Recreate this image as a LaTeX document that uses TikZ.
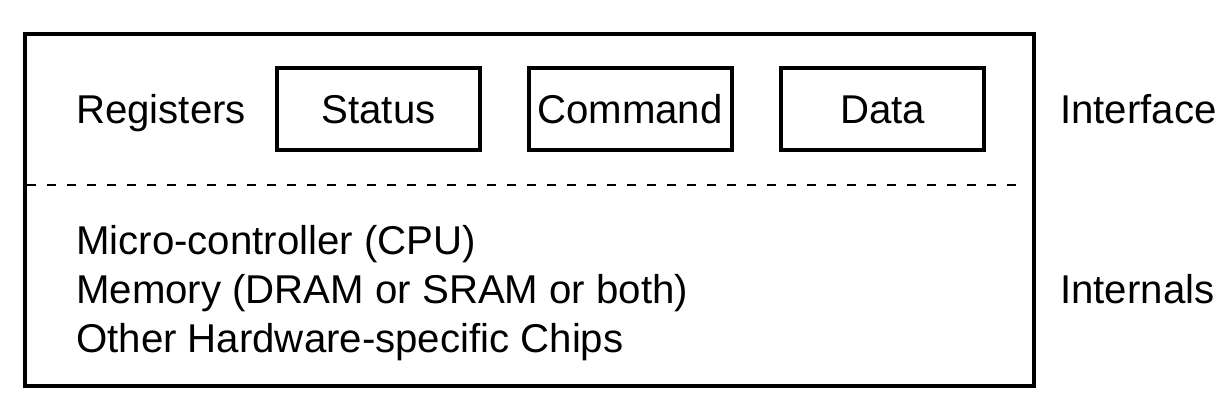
\documentclass[tikz,border=0pt]{standalone}
\usepackage{fontspec}
\setmainfont{Liberation Sans}
\begin{document}
\begin{tikzpicture}[x=1pt,y=-1pt,
  txt/.style={inner sep=0pt, font=\fontsize{40.2}{48}\selectfont, anchor=base west},
  regbox/.style={draw, line width=4pt, minimum width=203pt, minimum height=82pt, inner sep=0pt},
  lbl/.style={inner sep=0pt, font=\fontsize{40.2}{48}\selectfont, anchor=base}]
\useasboundingbox (0,0) rectangle (1232,404);
\node[draw, line width=4.5pt, minimum width=1009pt, minimum height=352pt, inner sep=0pt] (outer) at (529.5,210) {};
\node[regbox] (status) at (378.5,109) {};
\node[regbox] (command) at (630,109) {};
\node[regbox] (data) at (882.5,109) {};
\node[lbl] (tstatus) at (378.5,124) {Status};
\node[lbl] (tcommand) at (630,124) {Command};
\node[lbl] (tdata) at (882.5,124) {Data};
\node[txt] (registers) at (76,124) {Registers};
\node[txt] (interface) at (1060,124) {Interface};
\node[txt] (internals) at (1060,303) {Internals};
\node[txt] (cpu) at (76,254) {Micro-controller (CPU)};
\node[txt] (mem) at (76,303) {Memory (DRAM or SRAM or both)};
\node[txt] (chips) at (76,352) {Other Hardware-specific Chips};
\coordinate (dl) at (27,185);
\coordinate (dr) at (1026,185);
\draw[line width=2.2pt, dash pattern=on 9pt off 11pt] (dl) -- (dr);
\end{tikzpicture}
\end{document}
